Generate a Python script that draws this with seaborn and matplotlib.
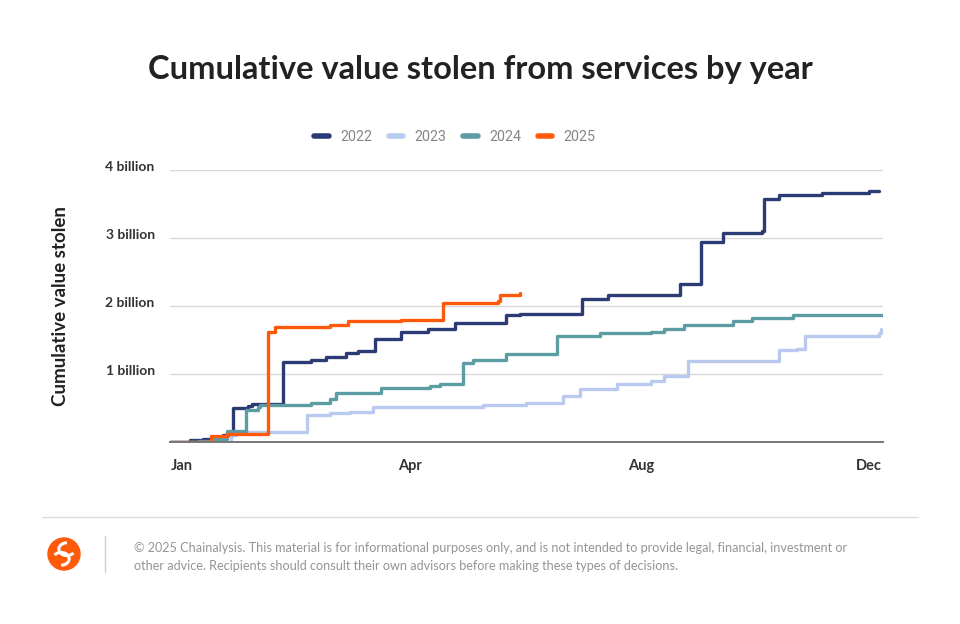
import matplotlib
matplotlib.use("Agg")
import matplotlib.pyplot as plt
import matplotlib.transforms as mtransforms
from matplotlib.patches import Circle, Arc
from matplotlib.lines import Line2D
import seaborn as sns
import pandas as pd

# ---------------- data (day of year, cumulative value in billions USD) ----------------
days_2022 = [0, 10, 17, 27, 32, 40, 42, 58, 72, 80, 90, 96, 105, 118, 132, 146, 172, 179,
             211, 224, 261, 272, 283, 303, 304, 312, 334, 358, 363]
vals_2022 = [0.0, 0.03, 0.05, 0.10, 0.50, 0.53, 0.56, 1.18, 1.20, 1.25, 1.31, 1.34, 1.51, 1.62,
             1.66, 1.75, 1.87, 1.88, 2.10, 2.16, 2.32, 2.94, 3.07, 3.10, 3.57, 3.63, 3.66, 3.69, 3.69]

days_2023 = [0, 31, 34, 70, 82, 92, 104, 128, 160, 182, 201, 210, 229, 246, 253, 265,
             312, 321, 325, 363, 364]
vals_2023 = [0.0, 0.10, 0.15, 0.40, 0.42, 0.44, 0.51, 0.52, 0.55, 0.57, 0.68, 0.78, 0.85,
             0.90, 0.97, 1.19, 1.35, 1.37, 1.56, 1.60, 1.66]

days_2024 = [0, 15, 22, 29, 39, 45, 46, 72, 82, 85, 108, 133, 138, 150, 155, 172, 198, 220,
             246, 253, 263, 288, 298, 319, 365]
vals_2024 = [0.0, 0.02, 0.05, 0.16, 0.47, 0.52, 0.55, 0.58, 0.63, 0.72, 0.79, 0.82, 0.85,
             1.16, 1.20, 1.30, 1.56, 1.60, 1.62, 1.66, 1.72, 1.78, 1.82, 1.87, 1.87]

days_2025 = [0, 21, 29, 50, 54, 82, 91, 118, 140, 168, 169, 179]
vals_2025 = [0.0, 0.09, 0.12, 1.62, 1.69, 1.72, 1.78, 1.80, 2.05, 2.08, 2.16, 2.19]

years = ["2022", "2023", "2024", "2025"]
colors = ["#2C3B73", "#BACAEF", "#5C9DA4", "#FF5A0A"]

x_tick_pos = [6, 123, 241, 358]
x_tick_labels = ["Jan", "Apr", "Aug", "Dec"]
y_tick_pos = [1, 2, 3, 4]
y_tick_labels = ["1 billion", "2 billion", "3 billion", "4 billion"]

title = "Cumulative value stolen from services by year"
y_label = "Cumulative value stolen"
footer = ("© 2025 Chainalysis. This material is for informational purposes only, and is not intended to provide legal, financial, investment or\n"
          "other advice. Recipients should consult their own advisors before making these types of decisions.")

# ---------------- build frame ----------------
frames = []
for yr, d, v in zip(years, [days_2022, days_2023, days_2024, days_2025],
                    [vals_2022, vals_2023, vals_2024, vals_2025]):
    frames.append(pd.DataFrame({"day": d, "value": v, "year": yr}))
df = pd.concat(frames, ignore_index=True)

# ---------------- plot ----------------
sns.set_theme(style="white")
plt.rcParams["font.family"] = ["Lato", "DejaVu Sans"]

fig = plt.figure(figsize=(9.6, 6.24), dpi=100)
ax = fig.add_axes([170 / 960, 1 - 442 / 624, (883 - 170) / 960, (442 - 170) / 624])

sns.lineplot(data=df, x="day", y="value", hue="year", hue_order=years,
             palette=dict(zip(years, colors)), estimator=None, sort=False,
             drawstyle="steps-post", linewidth=2.4, legend=False, ax=ax)

ax.set_xlim(0, 365)
ax.set_ylim(0, 4.0)
ax.set_xticks(x_tick_pos)
ax.set_xticklabels(x_tick_labels, fontsize=10.5, fontweight="bold", color="#333333")
ax.set_yticks(y_tick_pos)
ax.set_yticklabels(y_tick_labels, fontsize=10, fontweight="bold", color="#333333")
ax.tick_params(axis="both", length=0)
ax.tick_params(axis="x", pad=12)
ax.tick_params(axis="y", pad=11)
offset = mtransforms.ScaledTranslation(0, 4 / 100, fig.dpi_scale_trans)
for lbl in ax.get_yticklabels():
    lbl.set_transform(lbl.get_transform() + offset)
ax.set_xlabel("")
ax.set_ylabel("")
ax.grid(axis="y", color="#D9D9D9", linewidth=1.0)
ax.set_axisbelow(True)
for s in ["top", "right", "left"]:
    ax.spines[s].set_visible(False)
ax.spines["bottom"].set_color("#777777")
ax.spines["bottom"].set_linewidth(1.4)

fig.text(60 / 960, 1 - 306 / 624, y_label, rotation=90, ha="center", va="center",
         fontsize=13.5, fontweight="bold", color="#222222")

fig.text(480 / 960, 1 - 70 / 624, title, ha="center", va="center",
         fontsize=23.5, fontweight="bold", color="#222222")

handles = [Line2D([0], [0], color=c, linewidth=4) for c in colors]
leg = fig.legend(handles, years, loc="center", bbox_to_anchor=(455 / 960, 1 - 137 / 624),
                 ncol=4, frameon=False, handlelength=1.0, columnspacing=1.17,
                 handletextpad=0.8, prop={"family": "Roboto", "size": 10.3})
for t in leg.get_texts():
    t.set_color("#858585")

# footer
fig.add_artist(Line2D([42 / 960, 918 / 960], [1 - 517 / 624, 1 - 517 / 624],
                      color="#DDDDDD", linewidth=1.0, transform=fig.transFigure))
fig.add_artist(Line2D([105 / 960, 105 / 960], [1 - 536 / 624, 1 - 572 / 624],
                      color="#CCCCCC", linewidth=1.0, transform=fig.transFigure))

logo_ax = fig.add_axes([44 / 960, 1 - 574 / 624, 40 / 960, 40 / 624])
logo_ax.set_xlim(-1.25, 1.25)
logo_ax.set_ylim(-1.25, 1.25)
logo_ax.set_aspect("equal")
logo_ax.axis("off")
logo_ax.add_patch(Circle((0, 0), 1.0, color="#FF5A0A"))
logo_ax.add_patch(Arc((0.18, 0.3), 1.0, 0.8, theta1=90, theta2=330, color="white", linewidth=2.2))
logo_ax.add_patch(Arc((-0.18, -0.3), 1.0, 0.8, theta1=270, theta2=150, color="white", linewidth=2.2))

fig.text(134 / 960, 1 - 557 / 624, footer, ha="left", va="center", fontsize=9.1,
         color="#959595", linespacing=1.6)

fig.savefig("out.png", dpi=100, facecolor="white")
